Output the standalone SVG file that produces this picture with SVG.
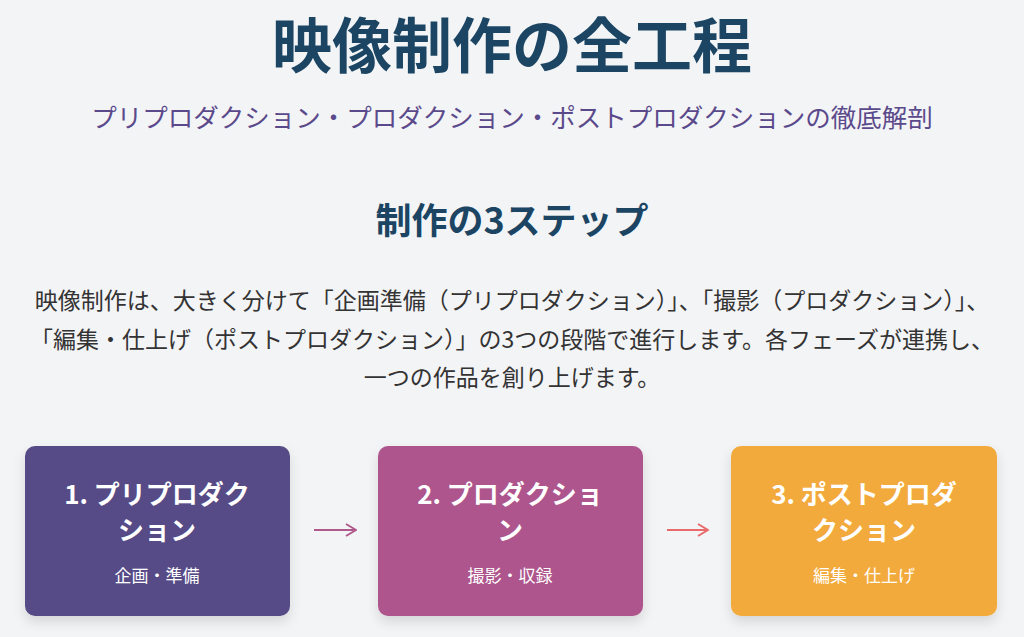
<svg xmlns="http://www.w3.org/2000/svg" width="1024" height="637" viewBox="0 0 1024 637">
<defs>
<style>
text{font-family:"Noto Sans CJK JP","Noto Sans",sans-serif;text-anchor:middle}
.t{font-size:60px;font-weight:bold;fill:#1b4563}
.s{font-size:25.5px;fill:#5b4a8b}
.h{font-size:36px;font-weight:bold;fill:#1b4563}
.p{font-size:23px;fill:#333}
.bt{font-size:26px;font-weight:bold;fill:#fff}
.bs{font-size:17px;fill:#fff}
</style>
<filter id="sh" x="-20%" y="-20%" width="140%" height="150%"><feDropShadow dx="0" dy="6" stdDeviation="6" flood-color="#000" flood-opacity="0.12"/></filter>
<marker id="a1" markerWidth="12" markerHeight="14" refX="11" refY="7" orient="auto" markerUnits="userSpaceOnUse"><path d="M1,1 L11,7 L1,13" fill="none" stroke="#b05a8c" stroke-width="2"/></marker>
<marker id="a2" markerWidth="12" markerHeight="14" refX="11" refY="7" orient="auto" markerUnits="userSpaceOnUse"><path d="M1,1 L11,7 L1,13" fill="none" stroke="#e86a6a" stroke-width="2"/></marker>
</defs>
<rect width="1024" height="637" fill="#f3f4f6"/>
<text class="t" x="512" y="68">映像制作の全工程</text>
<text class="s" x="512" y="127">プリプロダクション・プロダクション・ポストプロダクションの徹底解剖</text>
<text class="h" x="512" y="234">制作の3ステップ</text>
<text class="p" x="512" y="309">映像制作は、大きく分けて「企画準備（プリプロダクション）」、「撮影（プロダクション）」、</text>
<text class="p" x="512" y="348">「編集・仕上げ（ポストプロダクション）」の3つの段階で進行します。各フェーズが連携し、</text>
<text class="p" x="512" y="386">一つの作品を創り上げます。</text>
<g id="connectors">
<line x1="314" y1="530" x2="356" y2="530" stroke="#b05a8c" stroke-width="2" marker-end="url(#a1)"/>
<line x1="667" y1="530" x2="708" y2="530" stroke="#e86a6a" stroke-width="2" marker-end="url(#a2)"/>
</g>
<g id="node1">
<rect x="25" y="446" width="265" height="170" rx="10" fill="#574c86" filter="url(#sh)"/>
<text class="bt" x="157" y="504">1. プリプロダク</text>
<text class="bt" x="157" y="540">ション</text>
<text class="bs" x="157" y="582">企画・準備</text>
</g>
<g id="node2">
<rect x="378" y="446" width="265" height="170" rx="10" fill="#ad558c" filter="url(#sh)"/>
<text class="bt" x="510" y="504">2. プロダクショ</text>
<text class="bt" x="510" y="540">ン</text>
<text class="bs" x="510" y="582">撮影・収録</text>
</g>
<g id="node3">
<rect x="731" y="446" width="266" height="170" rx="10" fill="#f3aa3d" filter="url(#sh)"/>
<text class="bt" x="864" y="504">3. ポストプロダ</text>
<text class="bt" x="864" y="540">クション</text>
<text class="bs" x="864" y="582">編集・仕上げ</text>
</g>
</svg>
